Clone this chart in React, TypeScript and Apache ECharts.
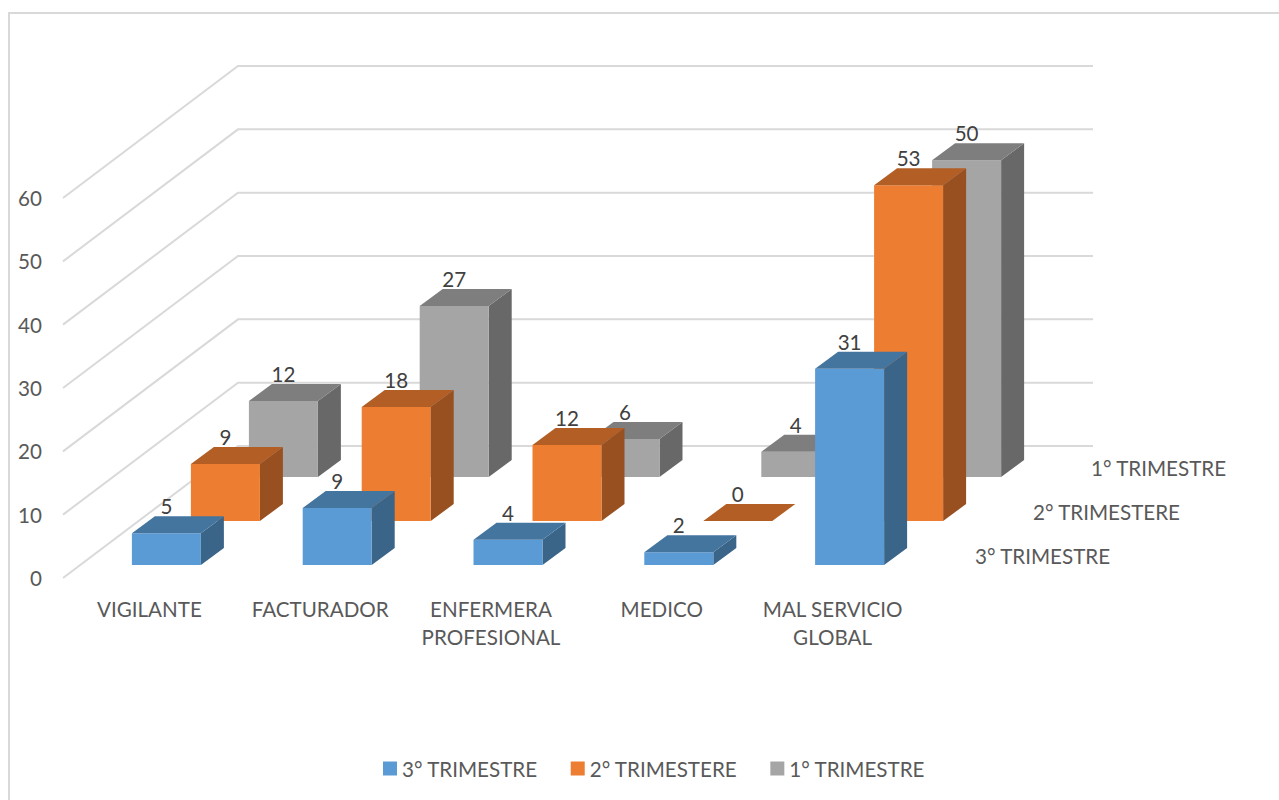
import React, { useEffect, useRef } from "react";
import * as echarts from "echarts";

const categories = ["VIGILANTE", "FACTURADOR", "ENFERMERA\nPROFESIONAL", "MEDICO", "MAL SERVICIO\nGLOBAL"];
const quarterNames = ["1° TRIMESTRE", "2° TRIMESTERE", "3° TRIMESTRE"];
const firstQuarter = [12, 27, 6, 4, 50];
const secondQuarter = [9, 18, 12, 0, 53];
const thirdQuarter = [5, 9, 4, 2, 31];
const valueTicks = [0, 10, 20, 30, 40, 50, 60];

const FONT = "Lato, Carlito, sans-serif";
const FONT_SIZE = 20.6;
const GRID = { left: 64, top: 198, width: 854, height: 380 };
const WALL = { dx: 175, dy: 132 };
const BOX = { ratio: 0.404, dx: 23, dy: 17 };

// Floor offset of each row of boxes, from the back row to the front row.
const rowOffsets = [
  { x: 134, y: 101 },
  { x: 76, y: 57 },
  { x: 17, y: 13 },
];

const rowColors = [
  { front: "#A5A5A5", top: "#7E7E7E", side: "#686868" },
  { front: "#ED7D31", top: "#B25E24", side: "#985020" },
  { front: "#5B9BD5", top: "#44759F", side: "#3A6488" },
];

function boxRenderer(row: number) {
  const offset = rowOffsets[row];
  const color = rowColors[row];
  return (_params: any, api: any) => {
    const category = api.value(0);
    const value = api.value(1);
    const base = api.coord([category, 0]);
    const head = api.coord([category, value]);
    const width = api.size([1, 0])[0] * BOX.ratio;
    const left = base[0] + offset.x - width / 2;
    const right = left + width;
    const bottom = base[1] - offset.y;
    const top = head[1] - offset.y;
    const children: any[] = [];
    if (value > 0) {
      children.push(
        {
          type: "polygon",
          shape: {
            points: [
              [right, top],
              [right + BOX.dx, top - BOX.dy],
              [right + BOX.dx, bottom - BOX.dy],
              [right, bottom],
            ],
          },
          style: { fill: color.side },
        },
        {
          type: "rect",
          shape: { x: left, y: top, width, height: bottom - top },
          style: { fill: color.front },
        }
      );
    }
    children.push(
      {
        type: "polygon",
        shape: {
          points: [
            [left, top],
            [left + BOX.dx, top - BOX.dy],
            [right + BOX.dx, top - BOX.dy],
            [right, top],
          ],
        },
        style: { fill: color.top },
      },
      {
        type: "text",
        style: {
          text: String(value),
          x: (left + right) / 2,
          y: top - BOX.dy - 10,
          fill: "#404040",
          font: `${FONT_SIZE}px ${FONT}`,
          textAlign: "center",
          textVerticalAlign: "middle",
        },
      }
    );
    return { type: "group", children };
  };
}

// Side wall and back wall lines for one value tick.
function wallRenderer(params: any, api: any) {
  const y = api.coord([0, api.value(0)])[1];
  const x = params.coordSys.x - 1;
  return {
    type: "polyline",
    shape: {
      points: [
        [x, y],
        [x + WALL.dx, y - WALL.dy],
        [x + WALL.dx + params.coordSys.width + 1, y - WALL.dy],
      ],
    },
    style: { stroke: "#D9D9D9", lineWidth: 2, fill: "none" },
  };
}

// Row names printed on the floor, to the right of the last category.
function rowLabelRenderer(params: any, api: any) {
  const row = api.value(0);
  const offset = rowOffsets[row];
  const floorY = api.coord([0, 0])[1];
  return {
    type: "text",
    style: {
      text: quarterNames[row],
      x: params.coordSys.x + params.coordSys.width + offset.x + (row === 2 ? 40 : 39),
      y: floorY - offset.y - 9,
      fill: "#595959",
      font: `${FONT_SIZE}px ${FONT}`,
      textAlign: "left",
      textVerticalAlign: "middle",
    },
  };
}

const boxSeries = (row: number, values: number[]) => ({
  type: "custom",
  name: quarterNames[row],
  coordinateSystem: "cartesian2d",
  itemStyle: { color: rowColors[row].front },
  renderItem: boxRenderer(row),
  encode: { x: 0, y: 1 },
  data: values.map((v, i) => [i, v]),
});

export default function App() {
  const ref = useRef<HTMLDivElement>(null);

  useEffect(() => {
    const chart = echarts.init(ref.current!, undefined, { renderer: "svg" });
    chart.setOption({
      animation: false,
      backgroundColor: "#FFFFFF",
      grid: GRID,
      xAxis: {
        type: "category",
        data: categories,
        axisLine: { show: false },
        axisTick: { show: false },
        axisLabel: {
          color: "#595959",
          fontFamily: FONT,
          fontSize: FONT_SIZE,
          lineHeight: 28,
          margin: 17,
          interval: 0,
        },
      },
      yAxis: {
        type: "value",
        min: 0,
        max: 60,
        interval: 10,
        axisLine: { show: false },
        axisTick: { show: false },
        splitLine: { show: false },
        axisLabel: { color: "#595959", fontFamily: FONT, fontSize: FONT_SIZE, margin: 22 },
      },
      legend: {
        left: 383,
        top: 758,
        padding: 0,
        icon: "rect",
        itemWidth: 14,
        itemHeight: 14,
        itemGap: 33,
        data: [quarterNames[2], quarterNames[1], quarterNames[0]],
        textStyle: { color: "#595959", fontFamily: FONT, fontSize: FONT_SIZE },
      },
      graphic: [
        {
          type: "polyline",
          shape: { points: [[9, 800], [9, 13], [1279, 13]] },
          style: { stroke: "#D9D9D9", lineWidth: 2, fill: "none" },
        },
      ],
      series: [
        {
          type: "custom",
          coordinateSystem: "cartesian2d",
          renderItem: wallRenderer,
          encode: { y: 0 },
          data: valueTicks.map((t) => [t]),
          silent: true,
        },
        {
          type: "custom",
          coordinateSystem: "cartesian2d",
          renderItem: rowLabelRenderer,
          data: quarterNames.map((_, i) => [i]),
          encode: { x: 0 },
          silent: true,
        },
        boxSeries(0, firstQuarter),
        boxSeries(1, secondQuarter),
        boxSeries(2, thirdQuarter),
      ],
    });
    return () => chart.dispose();
  }, []);

  return <div ref={ref} style={{ position: "fixed", left: 0, top: 0, width: 1279, height: 800 }} />;
}
